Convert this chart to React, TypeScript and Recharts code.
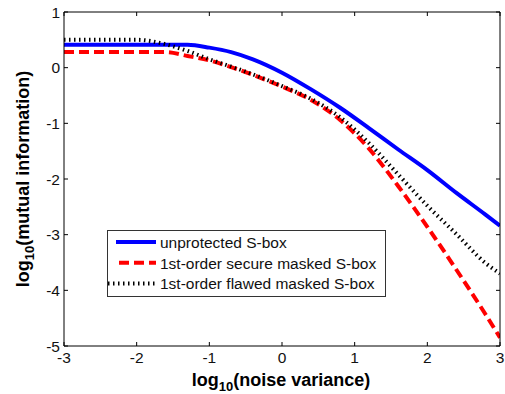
import { LineChart, Line, XAxis, YAxis, Legend, Label } from 'recharts';

// log10(noise variance) sample points
const noiseLog = [-3, -2.5, -2, -1.6, -1.3, -1, -0.7, -0.4, 0, 0.4, 0.8, 1.2, 1.6, 2, 2.4, 2.8, 3];

// log10(mutual information) per implementation
const unprotected = [0.41, 0.41, 0.41, 0.41, 0.41, 0.36, 0.28, 0.15, -0.09, -0.39, -0.72, -1.09, -1.47, -1.84, -2.25, -2.64, -2.84];
const secureMasked = [0.28, 0.28, 0.28, 0.28, 0.21, 0.13, 0.01, -0.13, -0.34, -0.58, -0.94, -1.46, -2.13, -2.86, -3.63, -4.43, -4.85];
const flawedMasked = [0.5, 0.5, 0.5, 0.42, 0.3, 0.15, 0.02, -0.12, -0.33, -0.56, -0.89, -1.36, -1.92, -2.48, -2.99, -3.51, -3.7];

const xTicks = [-3, -2, -1, 0, 1, 2, 3];
const yTicks = [-5, -4, -3, -2, -1, 0, 1];

const seriesNames = ['unprotected S-box', '1st-order secure masked S-box', '1st-order flawed masked S-box'];

const data = noiseLog.map((x, i) => ({
  x,
  unprotected: unprotected[i],
  secure: secureMasked[i],
  flawed: flawedMasked[i],
}));

const FONT = '"Liberation Sans", Arial, sans-serif';

const series = [
  { key: 'unprotected', name: seriesNames[0], color: '#0000ff', dash: undefined as string | undefined, x1: 8 },
  { key: 'secure', name: seriesNames[1], color: '#ff0000', dash: '10 5', x1: 11 },
  { key: 'flawed', name: seriesNames[2], color: '#000000', dash: '1.5 3.5', x1: 0 },
];

function LegendBox() {
  return (
    <div style={{ width: 279, height: 67, boxSizing: 'border-box', border: '1px solid #333', background: '#fff' }}>
      <svg width={277} height={65} style={{ display: 'block', overflow: 'visible' }}>
        {series.map((s, i) => {
          const base = 17 + i * 20.7;
          return (
            <g key={s.key}>
              <line x1={s.x1} x2={48} y1={base - 6} y2={base - 6} stroke={s.color} strokeWidth={4} strokeDasharray={s.dash} />
              <text x={52} y={base} fontSize={15.5} fontFamily={FONT} fill="#111">{s.name}</text>
            </g>
          );
        })}
      </svg>
    </div>
  );
}

function XTitle(props: any) {
  const vb = props.viewBox || {};
  return (
    <text x={vb.x + vb.width / 2 - 1} y={vb.y + 40} textAnchor="middle" fontFamily={FONT} fontWeight="bold" fontSize={18} fill="#000">
      <tspan>log</tspan>
      <tspan fontSize={13} dy={5}>10</tspan>
      <tspan dy={-5}>(noise variance)</tspan>
    </text>
  );
}

function YTitle(props: any) {
  const vb = props.viewBox || {};
  const cx = 29;
  const cy = vb.y + vb.height / 2;
  return (
    <text x={cx} y={cy} transform={`rotate(-90 ${cx} ${cy})`} textAnchor="middle" fontFamily={FONT} fontWeight="bold" fontSize={18} fill="#000">
      <tspan>log</tspan>
      <tspan fontSize={13} dy={5}>10</tspan>
      <tspan dy={-5}>(mutual information)</tspan>
    </text>
  );
}

const tickStyle = { fontSize: 15.5, fill: '#111', fontFamily: FONT };

export default function App() {
  return (
    <div style={{ position: 'absolute', left: 0, top: 0, width: 505, height: 394, background: '#fff' }}>
      <LineChart width={505} height={394} data={data} margin={{ top: 12, right: 5, bottom: 0, left: 0 }}>
        <XAxis
          dataKey="x"
          type="number"
          domain={[-3, 3]}
          ticks={xTicks}
          allowDataOverflow
          height={48}
          tickSize={-4}
          tickMargin={10}
          stroke="#000"
          tick={tickStyle}
        >
          <Label content={<XTitle />} />
        </XAxis>
        <XAxis
          xAxisId="top"
          dataKey="x"
          type="number"
          orientation="top"
          mirror
          domain={[-3, 3]}
          ticks={xTicks}
          allowDataOverflow
          tickSize={4}
          tickFormatter={() => ''}
          stroke="#000"
        />
        <YAxis
          type="number"
          domain={[-5, 1]}
          ticks={yTicks}
          allowDataOverflow
          width={64}
          tickSize={-4}
          tickMargin={8}
          stroke="#000"
          tick={tickStyle}
        >
          <Label content={<YTitle />} />
        </YAxis>
        <YAxis
          yAxisId="right"
          type="number"
          orientation="right"
          mirror
          domain={[-5, 1]}
          ticks={yTicks}
          allowDataOverflow
          tickSize={4}
          tickFormatter={() => ''}
          stroke="#000"
        />
        <Legend
          layout="vertical"
          align="center"
          verticalAlign="middle"
          content={() => <LegendBox />}
          wrapperStyle={{ left: 107, top: 230, width: 279, height: 67 }}
        />
        {series.map((s) => (
          <Line
            key={s.key}
            dataKey={s.key}
            name={s.name}
            type="monotone"
            stroke={s.color}
            strokeWidth={4}
            strokeDasharray={s.dash}
            dot={false}
            activeDot={false}
            isAnimationActive={false}
          />
        ))}
      </LineChart>
    </div>
  );
}
